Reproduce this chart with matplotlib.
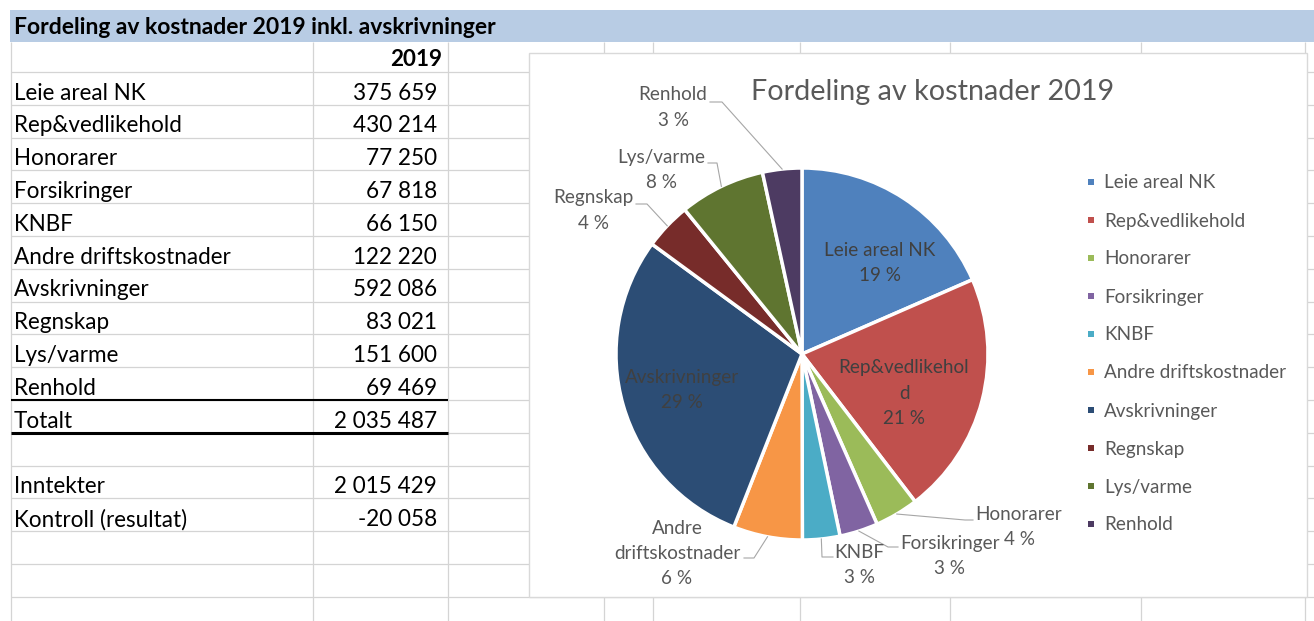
import matplotlib
matplotlib.use("Agg")
import matplotlib.pyplot as plt
from matplotlib.lines import Line2D
from matplotlib.patches import Rectangle
import numpy as np

plt.rcParams['font.family'] = ['Lato', 'DejaVu Sans']

# ---------------- data ----------------
sheet_title = "Fordeling av kostnader 2019 inkl. avskrivninger"
year_header = "2019"
categories = ["Leie areal NK", "Rep&vedlikehold", "Honorarer", "Forsikringer", "KNBF",
              "Andre driftskostnader", "Avskrivninger", "Regnskap", "Lys/varme", "Renhold"]
costs = [375659, 430214, 77250, 67818, 66150, 122220, 592086, 83021, 151600, 69469]
total_label = "Totalt"
income_label = "Inntekter"
income = 2015429
control_label = "Kontroll (resultat)"
chart_title = "Fordeling av kostnader 2019"
pct_labels = ["19 %", "21 %", "4 %", "3 %", "3 %", "6 %", "29 %", "4 %", "8 %", "3 %"]
slice_colors = ["#4F81BD", "#C0504D", "#9BBB59", "#8064A2", "#4BACC6",
                "#F79646", "#2C4D75", "#772C2A", "#5F7530", "#4D3B62"]

# ---------------- layout / style ----------------
W, H = 1314, 621
fig = plt.figure(figsize=(W / 100, H / 100), dpi=100)
fig.patch.set_facecolor("white")
ax = fig.add_axes([0, 0, 1, 1])
renderer = fig.canvas.get_renderer()

GRID = "#D4D4D4"
BAND = "#B8CCE4"
CHART_TXT = "#595959"
INSIDE_TXT = "#404040"
LEADER = "#A6A6A6"


def fit_size(s, target_px, weight="normal"):
    t = fig.text(0, 0, s, fontsize=12, weight=weight)
    w = t.get_window_extent(renderer).width
    t.remove()
    return 12 * target_px / w


fs_sheet = fit_size(sheet_title, 479, "bold")
fs_table = fit_size("Leie areal NK", 132)
fs_ctitle = fit_size(chart_title, 362)
fs_label = fit_size("Andre driftskostnader", 181)

# header band
ax.add_patch(Rectangle((10, 10), W - 10, 32, facecolor=BAND, edgecolor="none", zorder=1))
ax.text(14, 28, sheet_title, fontsize=fs_sheet, weight="bold", va="center", ha="left",
        color="black", zorder=5)

# grid
first_top = 72
row_h = 32.8
n_bounds = 17
bounds = [first_top + k * row_h for k in range(n_bounds)]
for yb in bounds:
    ax.plot([11, W], [yb, yb], color=GRID, lw=0.9, zorder=1, solid_capstyle="butt")
for xv in [11, 313, 448, 604, 653, 800, 950, 1141, 1305]:
    ax.plot([xv, xv], [42, H], color=GRID, lw=0.9, zorder=1, solid_capstyle="butt")

# table text
def fmt(v):
    return f"{v:,}".replace(",", " ")

ax.text(442, 60, year_header, fontsize=fs_table, weight="bold", ha="right", va="center", zorder=5)
total = sum(costs)
rows = [(c, fmt(v)) for c, v in zip(categories, costs)]
rows += [(total_label, fmt(total)), ("", ""), (income_label, fmt(income)),
         (control_label, fmt(income - total))]
for i, (lab, val) in enumerate(rows):
    yc = first_top + i * row_h + 21
    ax.text(14, yc, lab, fontsize=fs_table, ha="left", va="center", color="black", zorder=5)
    ax.text(437, yc, val, fontsize=fs_table, ha="right", va="center", color="black", zorder=5)

# thick rules under Renhold and Totalt
ax.plot([11, 448], [bounds[10], bounds[10]], color="black", lw=1.5, zorder=2, solid_capstyle="butt")
ax.plot([11, 448], [bounds[11], bounds[11]], color="black", lw=2.2, zorder=2, solid_capstyle="butt")

# chart area
ax.add_patch(Rectangle((529, 53), 1307 - 529, 597 - 53, facecolor="white",
                       edgecolor="#D9D9D9", lw=1.0, zorder=3))
ax.text(933, 92, chart_title, fontsize=fs_ctitle, weight="normal", color=CHART_TXT,
        ha="center", va="center", zorder=5)

center = (802, 354)
radius = 186
wedges, _ = ax.pie(costs, colors=slice_colors, startangle=-90, counterclock=True,
                   center=center, radius=radius, frame=True,
                   wedgeprops=dict(edgecolor="white", linewidth=2.5, zorder=4))

# data labels
label_pos = {0: (880, 250, None, True), 1: (904, 368, 14, True), 2: (1019, 514, None, False),
             3: (950, 543, None, False), 4: (859, 552, None, False), 5: (677, 528, "space", False),
             6: (682, 377, None, True), 7: (593, 198, None, False), 8: (661, 157, None, False),
             9: (673, 95, None, False)}
leaders = {2: [(965, 520), (973, 520)], 3: [(888, 547), (898, 547)], 4: [(822, 557), (833, 557)],
           5: [(754, 558), (744, 558)], 7: [(647, 204), (636, 204)], 8: [(717, 163), (708, 163)],
           9: [(722, 102), (710, 102)]}
step = 25.5
for i, w in enumerate(wedges):
    x, y0, wrap, inside = label_pos[i]
    name = categories[i]
    if wrap == "space":
        lines = name.split(" ")
    elif isinstance(wrap, int):
        lines = [name[j:j + wrap] for j in range(0, len(name), wrap)]
    else:
        lines = [name]
    lines = lines + [pct_labels[i]]
    col = INSIDE_TXT if inside else CHART_TXT
    for k, ln in enumerate(lines):
        ax.text(x, y0 + k * step, ln, fontsize=fs_label, color=col, ha="center",
                va="center", zorder=6)
    if i in leaders:
        mid = np.deg2rad((w.theta1 + w.theta2) / 2)
        px = center[0] + radius * np.cos(mid)
        py = center[1] + radius * np.sin(mid)
        pts = [(px, py)] + leaders[i]
        ax.plot([p[0] for p in pts], [p[1] for p in pts], color=LEADER, lw=0.8, zorder=5)

# legend
handles = [Line2D([], [], marker="s", linestyle="none", markersize=5,
                  markerfacecolor=c, markeredgewidth=0) for c in slice_colors]
fs_px = fs_label * 100 / 72


def make_legend(ls, anchor):
    return ax.legend(handles, categories, loc="upper left", bbox_to_anchor=anchor,
                     frameon=False, fontsize=fs_label, labelspacing=ls, handlelength=0.6,
                     handletextpad=0.4, borderpad=0, borderaxespad=0, labelcolor=CHART_TXT)


ax.set_xlim(0, W)
ax.set_ylim(H, 0)
ax.set_aspect("auto")
ax.axis("off")

ls = 1.0
anchor = (1086 / W, 1 - 170 / H)
leg = make_legend(ls, anchor)
fig.canvas.draw()
ys = [t.get_window_extent(renderer).y0 for t in leg.get_texts()]
actual = (ys[0] - ys[-1]) / (len(ys) - 1)
ls = ls + (38 - actual) / fs_px
leg.remove()
leg = make_legend(ls, anchor)
fig.canvas.draw()
t0 = leg.get_texts()[0].get_window_extent(renderer)
dx = 1104 - t0.x0
dy = (H - 183) - (t0.y0 + t0.y1) / 2
anchor = (anchor[0] + dx / W, anchor[1] + dy / H)
leg.remove()
leg = make_legend(ls, anchor)

fig.savefig("out.png", dpi=100)
